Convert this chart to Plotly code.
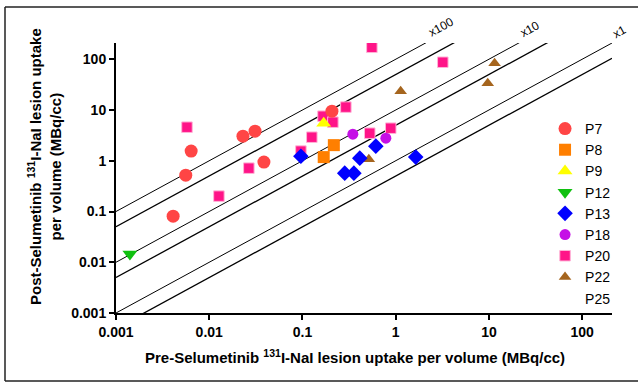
import plotly.graph_objects as go

# ---- data (pre, post) in MBq/cc ----
p7_x = [0.0041, 0.0056, 0.0064, 0.023, 0.031, 0.0386, 0.207]
p7_y = [0.081, 0.52, 1.55, 3.05, 3.83, 0.94, 9.47]
p8_x = [0.169, 0.217]
p8_y = [1.18, 2.03]
p9_x = [0.169]
p9_y = [5.5]
p12_x = [0.00141]
p12_y = [0.0145]
p13_x = [0.0962, 0.284, 0.356, 0.412, 0.612, 1.64]
p13_y = [1.23, 0.57, 0.57, 1.125, 1.94, 1.18]
p18_x = [0.347, 0.784]
p18_y = [3.34, 2.79]
p20_x = [0.00577, 0.0127, 0.0266, 0.0962, 0.126, 0.166, 0.212, 0.292, 0.527, 0.885, 0.555, 3.2]
p20_y = [4.58, 0.201, 0.714, 1.55, 2.91, 7.55, 5.75, 11.4, 3.49, 4.38, 172, 87.3]
p22_x = [1.13, 0.515, 11.5, 9.71]
p22_y = [23.4, 1.07, 83.4, 33.7]
p25_x = [None]
p25_y = [None]

ratio_factors = [100, 50, 10, 5, 1, 0.5]
ratio_labels = ["x100", "x10", "x1"]
tick_vals = [0.001, 0.01, 0.1, 1, 10, 100]
tick_text = ["0.001", "0.01", "0.1", "1", "10", "100"]
x_title = "Pre-Selumetinib <sup>131</sup>I-NaI lesion uptake per volume (MBq/cc)"
y_title = "Post-Selumetinib <sup>131</sup>I-NaI lesion uptake<br>per volume (MBq/cc)"

LOG_MIN, LOG_MAX = -3, 2.32
FONT = "Liberation Sans, Arial, sans-serif"

fig = go.Figure()

# reference ratio lines
xline = [10 ** LOG_MIN, 10 ** LOG_MAX]
for i, k in enumerate(ratio_factors):
    fig.add_trace(go.Scatter(
        x=xline, y=[k * v for v in xline], mode="lines",
        line=dict(color="black", width=1 if i % 2 == 0 else 1.3),
        showlegend=False, hoverinfo="skip"))

series = [
    ("P22", p22_x, p22_y, dict(symbol="triangle-up", size=11, color="#A5651E")),
    ("P20", p20_x, p20_y, dict(symbol="square", size=10.5, color="#FF1488",
                               line=dict(color="#FFB3D6", width=1))),
    ("P18", p18_x, p18_y, dict(symbol="circle", size=11, color="#C510E6")),
    ("P13", p13_x, p13_y, dict(symbol="diamond", size=12, color="#0000FF")),
    ("P12", p12_x, p12_y, dict(symbol="triangle-down", size=13, color="#10C010")),
    ("P9", p9_x, p9_y, dict(symbol="triangle-up", size=13, color="#FFFF00")),
    ("P8", p8_x, p8_y, dict(symbol="square", size=12, color="#FF7F00")),
    ("P7", p7_x, p7_y, dict(symbol="circle", size=13, color="#FF4545")),
]
fig.add_trace(go.Scatter(x=p25_x, y=p25_y, mode="markers", name="P25", showlegend=True,
                         marker=dict(symbol="circle", size=10, color="rgba(255,255,255,0)")))
for name, xs, ys, mk in series:
    fig.add_trace(go.Scatter(x=xs, y=ys, mode="markers", name=name, marker=mk))

# plot area in pixels: x 116..612, y 43..313
W, H = 638, 383
L, R, T, B = 116, 612, 43, 313
def px(x):
    return (x - L) / (R - L)
def py(y):
    return (B - y) / (B - T)

label_pos = [(441, 27), (530, 29), (619, 32)]
for lab, (lx, ly) in zip(ratio_labels, label_pos):
    fig.add_annotation(x=px(lx), y=py(ly), xref="paper", yref="paper",
                       xanchor="center", yanchor="middle",
                       text=lab, showarrow=False, textangle=-29,
                       font=dict(family=FONT, size=12, color="black"))

# axis titles
title_font = dict(family=FONT, size=15, color="black", weight="bold")
fig.add_annotation(x=px(355), y=py(356), xref="paper", yref="paper",
                   xanchor="center", yanchor="middle", showarrow=False,
                   text=x_title, font=title_font)
fig.add_annotation(x=px(44), y=py(167), xref="paper", yref="paper",
                   xanchor="center", yanchor="middle", showarrow=False,
                   text=y_title, textangle=-90, align="center", font=title_font)

# figure frame
for x0, y0, x1, y1 in [(5, 7, 638, 7), (5, 7, 5, 381), (5, 381, 638, 381)]:
    fig.add_shape(type="line", xref="paper", yref="paper",
                  x0=px(x0), y0=py(y0), x1=px(x1), y1=py(y1),
                  line=dict(color="#222222", width=1.5))

axis_common = dict(
    type="log", range=[LOG_MIN, LOG_MAX], tickvals=tick_vals, ticktext=tick_text,
    showgrid=False, zeroline=False, showline=True, linecolor="black", linewidth=2,
    ticks="outside", ticklen=5, tickwidth=2, tickcolor="black", automargin=False,
    tickfont=dict(family=FONT, size=14, color="black", weight="bold"),
)

fig.update_layout(
    width=W, height=H,
    margin=dict(l=L, r=W - R, t=T, b=H - B),
    paper_bgcolor="white", plot_bgcolor="white",
    font=dict(family=FONT, color="black"),
    xaxis=dict(**axis_common),
    yaxis=dict(**axis_common),
    legend=dict(x=0.865, y=0.741, xanchor="left", yanchor="top",
                traceorder="reversed", bgcolor="rgba(0,0,0,0)",
                font=dict(family=FONT, size=14, color="black")),
    showlegend=True,
)

fig.write_html("out.html", config={"displayModeBar": False},
               post_script="document.body.style.margin='0';")
